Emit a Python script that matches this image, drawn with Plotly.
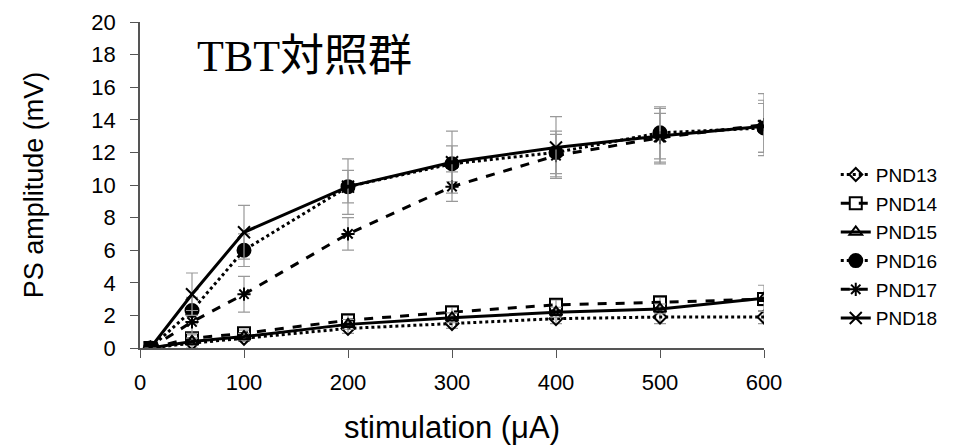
import plotly.graph_objects as go

stim = [10, 50, 100, 200, 300, 400, 500, 600]

names = ["PND13", "PND14", "PND15", "PND16", "PND17", "PND18"]
pnd13 = [0, 0.3, 0.6, 1.2, 1.5, 1.8, 1.9, 1.9]
pnd14 = [0, 0.6, 0.9, 1.7, 2.2, 2.65, 2.8, 3.0]
pnd15 = [0, 0.4, 0.7, 1.45, 1.85, 2.2, 2.4, 3.05]
pnd16 = [0, 2.3, 6.0, 9.9, 11.3, 12.0, 13.2, 13.5]
pnd17 = [0, 1.6, 3.3, 7.0, 9.9, 11.8, 12.9, 13.7]
pnd18 = [0, 3.3, 7.1, 9.9, 11.4, 12.3, 13.0, 13.6]

err13 = [0, 0.3, 0.2, 0.3, 0.3, 0.3, 0.4, 0.4]
err14 = [0, 0.2, 0.2, 0.3, 0.3, 0.3, 0.3, 0.4]
err15 = [0, 0.2, 0.2, 0.3, 0.3, 0.3, 0.3, 0.8]
err16 = [0, 0.8, 1.0, 1.0, 1.1, 1.3, 1.6, 1.5]
err17 = [0, 0.7, 1.1, 1.0, 0.9, 1.3, 1.5, 1.9]
err18 = [0, 1.3, 1.65, 1.7, 1.9, 1.9, 1.7, 1.6]

values = [pnd13, pnd14, pnd15, pnd16, pnd17, pnd18]
errors = [err13, err14, err15, err16, err17, err18]
dashes = ["dot", "dash", "solid", "dot", "dash", "solid"]
symbols = ["diamond-open", "square-open", "triangle-up-open", "circle",
           "asterisk-open", "x-thin-open"]
msizes = [10, 12, 11, 13, 11, 12]

fig = go.Figure()
for i, nm in enumerate(names):
    fig.add_trace(go.Scatter(
        x=stim, y=values[i], name=nm, mode="lines+markers",
        legendgroup=nm,
        line=dict(color="black", width=3, dash=dashes[i]),
        marker=dict(symbol=symbols[i], size=msizes[i], color="black",
                    line=dict(color="black", width=2)),
        error_y=dict(type="data", array=errors[i], color="#999999",
                     thickness=1.2, width=6),
    ))

fig.update_layout(
    width=966, height=448,
    margin=dict(l=140, r=202, t=22, b=100, autoexpand=False),
    plot_bgcolor="white", paper_bgcolor="white",
    font=dict(family="Liberation Sans, Arial, sans-serif", color="black"),
    showlegend=True,
    legend=dict(x=1.115, y=0.59, xanchor="left", yanchor="top",
                font=dict(size=19), tracegroupgap=1,
                bgcolor="rgba(0,0,0,0)"),
    annotations=[dict(text="TBT対照群", x=0.088, y=0.975, xref="paper", yref="paper",
                      xanchor="left", yanchor="top", showarrow=False,
                      font=dict(family="Liberation Serif, Noto Sans CJK JP, serif",
                                size=44, color="black"))],
)
fig.update_xaxes(range=[0, 600], tickvals=[0, 100, 200, 300, 400, 500, 600],
                 showline=True, linecolor="#555555", linewidth=1.5,
                 ticks="outside", ticklen=8, tickcolor="#555555",
                 showgrid=False, zeroline=False, tickfont=dict(size=22),
                 ticklabelstandoff=6, automargin=False,
                 title=dict(text="stimulation (μA)", font=dict(size=31), standoff=22))
fig.update_yaxes(range=[0, 20], tickvals=list(range(0, 21, 2)),
                 showline=True, linecolor="#555555", linewidth=1.5,
                 ticks="outside", ticklen=8, tickcolor="#555555",
                 showgrid=False, zeroline=False, tickfont=dict(size=22),
                 ticklabelstandoff=10, automargin=False,
                 title=dict(text="PS amplitude (mV)", font=dict(size=27), standoff=40))

fig.write_html("out.html")
